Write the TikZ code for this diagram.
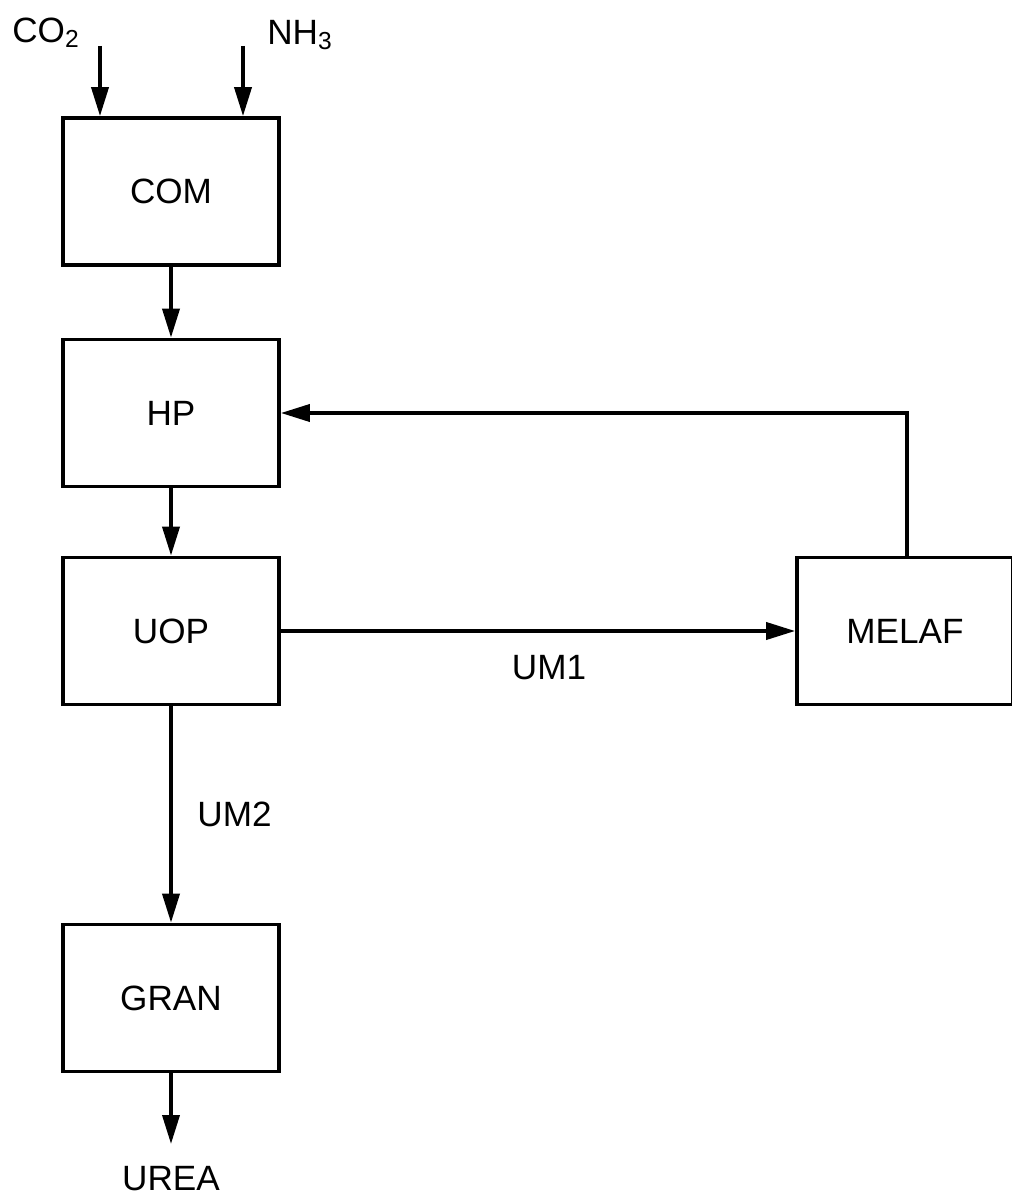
\documentclass[tikz,border=0pt]{standalone}
\usepackage{fontspec}
\setmainfont{Liberation Sans}
\usepackage{xcolor}
\usetikzlibrary{arrows.meta}
\tikzstyle{unit} = [draw=black, fill=white, line width=2.1pt,
rectangle, minimum width=4.32cm, minimum height=2.94cm, font=\fontsize{20}{24}\selectfont]
\tikzstyle{stream} = [line width=2.1pt, -{Triangle[length=0.58cm, width=0.34cm]}]
\tikzstyle{tag} = [font=\fontsize{20}{24}\selectfont, inner sep=0pt]

\begin{document}
\begin{tikzpicture}[x=0.02cm, y=-0.02cm]
        \useasboundingbox (0,0) rectangle (1011,1199);
        \node [unit] (com) at (171,191.5) {COM};
        \node [unit] (hp) at (171,413) {HP};
        \node [unit] (uop) at (171,631) {UOP};
        \node [unit] (gran) at (171,998) {GRAN};
        \node [unit] (melaf) at (905,631) {MELAF};
        % feeds
        \node [tag] (co2) at (46,33) {CO\textsubscript{2}};
        \node [tag] (nh3) at (300,35) {NH\textsubscript{3}};
        \coordinate (co2in) at (100,46);
        \coordinate (nh3in) at (243,46);
        \node [tag] (urea) at (171,1179) {UREA};
        \coordinate (ureaout) at (171,1144);
        \draw [stream] (co2in) -- (co2in |- com.north);
        \draw [stream] (nh3in) -- (nh3in |- com.north);
        \draw [stream] (com) -- (hp);
        \draw [stream] (hp) -- (uop);
        \draw [stream] (uop) -- node[tag, below=13pt, xshift=0.22cm] (um1) {UM1} (melaf);
        \draw [stream] (uop) -- node[tag, right=14pt] (um2) {UM2} (gran);
        \draw [stream] (gran.south) -- (ureaout);
        \draw [stream] ([xshift=0.04cm]melaf.north) |- (hp.east);
    \end{tikzpicture}
\end{document}
